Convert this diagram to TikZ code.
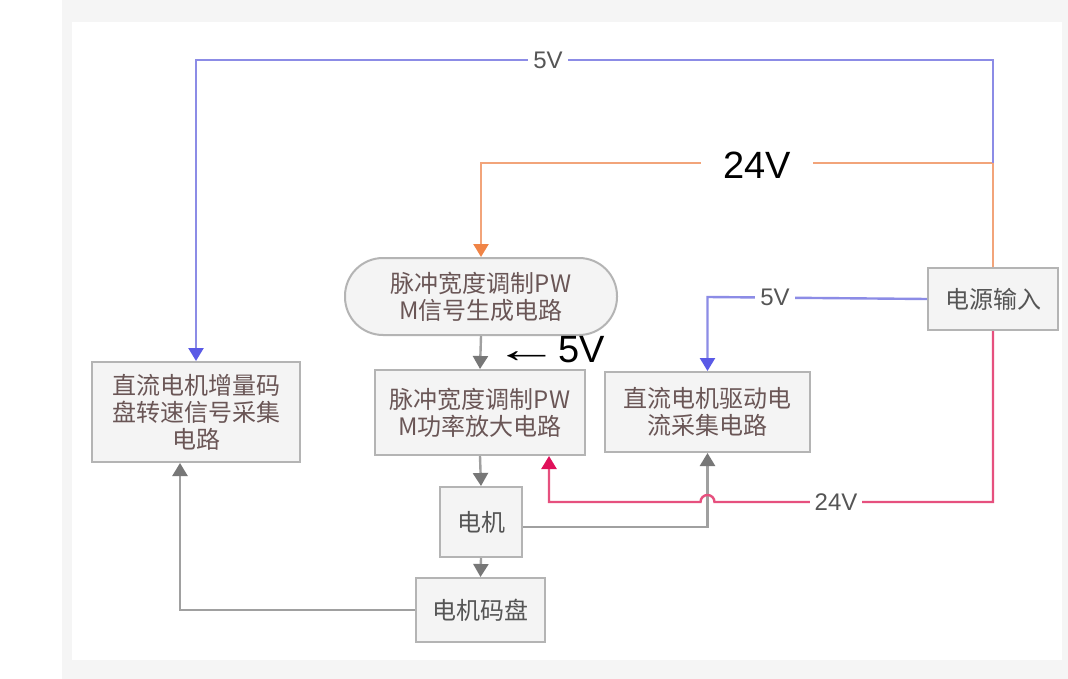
\documentclass[tikz,border=0pt]{standalone}
\usepackage{fontspec}
\setmainfont{Liberation Sans}
\newfontfamily\cjk{Noto Sans CJK SC}
\usetikzlibrary{arrows.meta}
\definecolor{boxfill}{HTML}{F4F4F4}
\definecolor{boxline}{HTML}{B4B4B4}
\definecolor{boxtext}{HTML}{6A5656}
\definecolor{blueline}{HTML}{8C8CE6}
\definecolor{bluehead}{HTML}{5A5AE6}
\definecolor{orangeline}{HTML}{F2A47A}
\definecolor{orangehead}{HTML}{F08446}
\definecolor{redline}{HTML}{E6507E}
\definecolor{redhead}{HTML}{E0105A}
\definecolor{grayline}{HTML}{A0A0A0}
\definecolor{grayhead}{HTML}{777777}
\definecolor{labelgray}{HTML}{555555}
\tikzset{
  blockbox/.style={draw=boxline, fill=boxfill, line width=2pt, align=center,
    font=\cjk\fontsize{24}{27}\selectfont, text=boxtext, inner sep=2pt},
  conn/.style={line width=2.4pt},
  tipstyle/.style={-{Triangle[length=13pt,width=15pt,fill=#1,color=#1]}},
  bluec/.style={conn, draw=blueline, tipstyle=bluehead},
  bluep/.style={conn, draw=blueline},
  orangec/.style={conn, draw=orangeline, tipstyle=orangehead},
  orangep/.style={conn, draw=orangeline},
  redc/.style={conn, draw=redline, tipstyle=redhead},
  grayc/.style={conn, draw=grayline, tipstyle=grayhead},
  smalllabel/.style={fill=white, text=labelgray, font=\fontsize{24}{26}\selectfont, inner sep=5pt},
  biglabel/.style={fill=white, text=black, font=\fontsize{38}{40}\selectfont, inner xsep=22pt, inner ysep=3pt},
}
\begin{document}
\begin{tikzpicture}[x=1pt,y=-1pt]
\useasboundingbox (0,0) rectangle (1068,679);
\fill[white] (0,0) rectangle (1068,679);
\fill[black!4] (62,0) rectangle (1068,679);
\fill[white] (72,22) rectangle (1062,660);

% nodes
\node[blockbox, minimum width=208pt, minimum height=100pt] (enc) at (196,412) {直流电机增量码\\盘转速信号采集\\电路};
\node[blockbox, minimum width=272pt, minimum height=77pt, rounded corners=38pt] (gen) at (481,296.5) {脉冲宽度调制PW\\M信号生成电路};
\node[blockbox, minimum width=210pt, minimum height=85pt] (amp) at (480,412.5) {脉冲宽度调制PW\\M功率放大电路};
\node[blockbox, minimum width=205pt, minimum height=80pt] (drv) at (707.5,412) {直流电机驱动电\\流采集电路};
\node[blockbox, minimum width=130pt, minimum height=62pt, text=labelgray] (pwr) at (993,299) {电源输入};
\node[blockbox, minimum width=82pt, minimum height=70pt, text=labelgray] (mot) at (481,522) {电机};
\node[blockbox, minimum width=129pt, minimum height=64pt, text=labelgray] (disk) at (480.5,610) {电机码盘};

% junction and corner coordinates
\coordinate (j) at (993,163);
\coordinate (topr) at (993,60);
\coordinate (topl) at (196,60);
\coordinate (og) at (481,163);
\coordinate (b2) at (707.5,297);
\coordinate (rr) at (993,502);
\coordinate (ra) at (714.5,502);
\coordinate (rl) at (549,502);
\coordinate (ms) at (707.5,527);
\coordinate (dl) at (180,610);

% orange 24V
\draw[orangep] (pwr.north) -- (j);
\draw[orangec] (j) -- (og) -- (gen.north);
\node[biglabel] (l24a) at (757,165) {24V};

% blue 5V top
\draw[bluec] (j) -- (topr) -- (topl) -- (enc.north);
\node[smalllabel] (l5a) at (548,60) {5V};

% blue 5V to driver
\draw[bluec] (pwr.west) -- (b2) -- (drv.north);
\node[smalllabel] (l5b) at (775,297) {5V};

% gray flows
\draw[grayc] (gen.south) -- (amp.north);
\node[text=black, font=\fontsize{38}{40}\selectfont, anchor=west, inner sep=0pt] (l5c) at (494,350) {\scalebox{1.7}[1.0]{←}5V};
\draw[grayc] (amp.south) -- (mot.north);
\draw[grayc] (mot.south) -- (disk.north);
\draw[grayc] (mot.east |- ms) -- (ms) -- (drv.south);
\draw[grayc] (disk.west) -- (dl) -- (enc.south -| dl);

% red 24V
\draw[redc] (pwr.south) -- (rr) -- (ra) arc[start angle=0, end angle=180, radius=7pt] -- (rl) -- (rl |- amp.south);
\node[smalllabel] (l24b) at (836,502) {24V};
\end{tikzpicture}
\end{document}
